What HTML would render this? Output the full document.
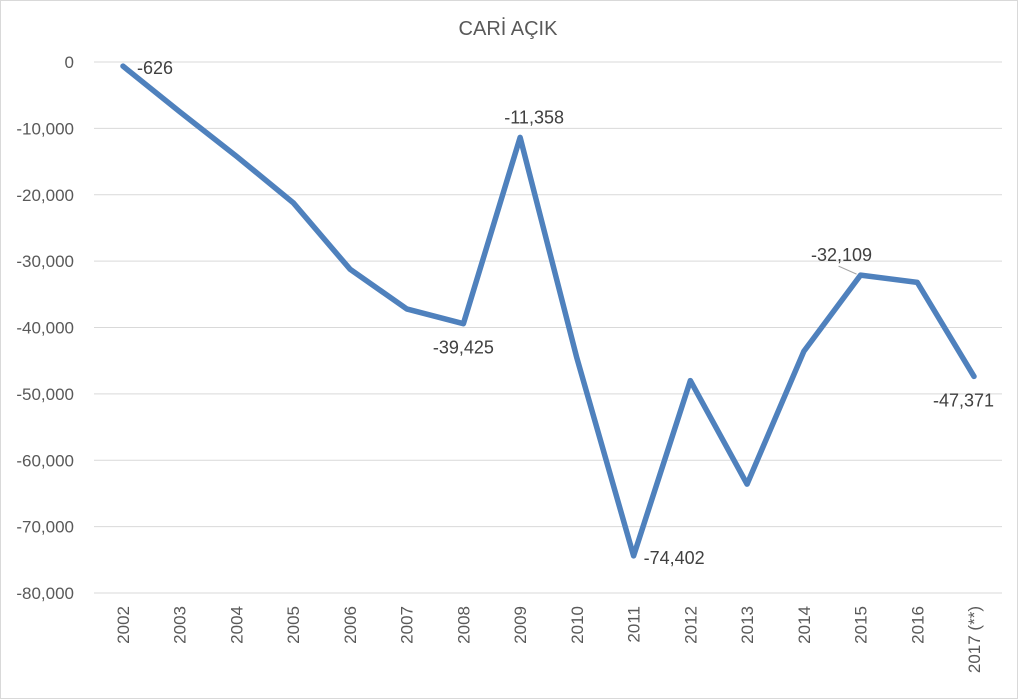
<!DOCTYPE html>
<html><head><meta charset="utf-8">
<style>
html,body{margin:0;padding:0;background:#fff;}
svg{display:block;font-family:"Liberation Sans",Calibri,sans-serif;}
</style></head>
<body>
<svg id="chart" width="1018" height="699" viewBox="0 0 1018 699">
<rect x="0.5" y="0.5" width="1017" height="698" fill="#fff" stroke="#d9d9d9"/>
<text x="508" y="35" text-anchor="middle" font-size="20" fill="#595959">CARİ AÇIK</text>
<g id="grid"></g><g id="yticks"></g><g id="xticks"></g><g id="series"></g><g id="labels"></g>
</svg>
<script>
const years=["2002","2003","2004","2005","2006","2007","2008","2009","2010","2011","2012","2013","2014","2015","2016","2017 (**)"];
const values=[-626,-7500,-14200,-21200,-31200,-37200,-39425,-11358,-44600,-74402,-48000,-63600,-43600,-32109,-33200,-47371];
const yTicks=[0,-10000,-20000,-30000,-40000,-50000,-60000,-70000,-80000];
const labeledIdx=[0,6,7,9,13,15];
const labelText=["-626","-39,425","-11,358","-74,402","-32,109","-47,371"];
const NS="http://www.w3.org/2000/svg";
const x0=123,x1=974,yTop=62,yBot=593;
function xs(i){return x0+(x1-x0)*i/(years.length-1);}
function ys(v){return yTop+(0-v)/80000*(yBot-yTop);}
function mk(tag,attrs,parent,txt){const e=document.createElementNS(NS,tag);for(const k in attrs)e.setAttribute(k,attrs[k]);if(txt!==undefined)e.textContent=txt;parent.appendChild(e);return e;}
const grid=document.getElementById('grid'),yt=document.getElementById('yticks'),xt=document.getElementById('xticks'),se=document.getElementById('series'),lb=document.getElementById('labels');
yTicks.forEach(t=>{
  const y=ys(t);
  const l=mk('line',{x1:94,x2:1002,y1:y,y2:y,stroke:'#d9d9d9','stroke-width':1},grid);
  
  
  const tx=mk('text',{x:74,y:y+6,'text-anchor':'end','font-size':17,fill:'#595959'},yt,t===0?'0':t.toLocaleString('en-US'));
  
  
});
years.forEach((yr,i)=>{
  const x=xs(i);
  const tx=mk('text',{x:0,y:0,'text-anchor':'end','font-size':17,fill:'#595959',transform:`translate(${x+6},606) rotate(-90)`},xt,yr);
  
  
});
const pts=values.map((v,i)=>xs(i)+','+ys(v)).join(' ');
const pl=mk('polyline',{points:pts,fill:'none',stroke:'#4f81bd','stroke-width':5.5,'stroke-linejoin':'round','stroke-linecap':'round'},se);


// label placement offsets (dx, dy, anchor) per labeled point
const place={0:[14,8,'start'],6:[0,30,'middle'],7:[14,-14,'middle'],9:[10,8,'start'],13:[-19,-14,'middle'],15:[-41,30,'start']};
labeledIdx.forEach((idx,k)=>{
  const x=xs(idx),y=ys(values[idx]);const p=place[idx];
  const t=mk('text',{x:x+p[0],y:y+p[1],'text-anchor':p[2],'font-size':18,fill:'#404040'},lb,labelText[k]);
  
  
  if(idx===13){
    const ll=mk('line',{x1:x-22,y1:y-9,x2:x-4,y2:y-1,stroke:'#a6a6a6','stroke-width':1},lb);
    
    
  }
});
</script>
</body></html>
